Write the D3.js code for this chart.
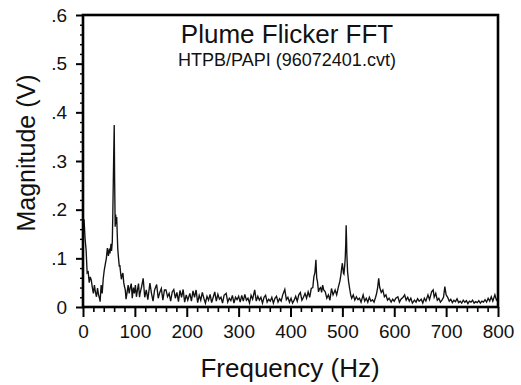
<!DOCTYPE html>
<html>
<head>
<meta charset="utf-8">
<script src="https://cdn.jsdelivr.net/npm/d3@7.8.5/dist/d3.min.js"></script>
<style>
  html, body { margin: 0; padding: 0; background: #fff; }
  svg { display: block; font-family: "Liberation Sans", Arial, sans-serif; }
</style>
</head>
<body>
<div id="chart"></div>
<script>
// Chart text
const titleText = "Plume Flicker FFT";
const subtitleText = "HTPB/PAPI (96072401.cvt)";
const xLabel = "Frequency (Hz)";
const yLabel = "Magnitude (V)";

// Tick values
const xTicks = [0, 100, 200, 300, 400, 500, 600, 700, 800];
const yTicks = [0, 0.1, 0.2, 0.3, 0.4, 0.5, 0.6];
const yTickLabels = ["0", ".1", ".2", ".3", ".4", ".5", ".6"];

// Spectrum, [frequency Hz, magnitude V]
// low band with the ~60 Hz flicker peak
const lowBand = [
    [0, 0.17], [2, 0.18], [4, 0.14], [6, 0.117], [8, 0.07], [10, 0.072], [12, 0.05],
    [14, 0.062], [16, 0.055], [18, 0.04], [20, 0.028], [22, 0.045], [24, 0.03],
    [26, 0.021], [28, 0.039], [30, 0.025], [32, 0.017], [33, 0.011], [35, 0.045],
    [37, 0.028], [39, 0.058], [41, 0.076], [43, 0.088], [45, 0.1], [47, 0.121],
    [49, 0.105], [51, 0.12], [52, 0.11], [54, 0.13], [55, 0.115], [56.5, 0.134],
    [57.5, 0.193], [59, 0.3], [60.2, 0.374], [61, 0.26], [62, 0.165], [63, 0.19],
    [64, 0.17], [65, 0.185], [66, 0.15], [67, 0.12], [68.5, 0.1], [70, 0.083],
    [71, 0.086], [72.5, 0.07], [74, 0.057], [75.5, 0.066], [77, 0.07], [78.5, 0.05],
    [80, 0.042], [81.5, 0.035], [83, 0.016], [85, 0.03], [87, 0.045], [89, 0.028],
    [91, 0.04], [93, 0.048], [95, 0.018], [97, 0.04], [99, 0.028], [101, 0.045],
    [103, 0.021], [105, 0.035], [107, 0.048], [109, 0.02]
];

// broadband noise between the peaks
const midBand = [
    [110, 0.028], [113, 0.042], [116, 0.059], [119, 0.02], [122, 0.035], [125, 0.015],
    [129, 0.049], [132, 0.028], [135, 0.012], [138, 0.035], [142, 0.046], [145, 0.018],
    [148, 0.03], [151, 0.038], [154, 0.014], [157, 0.035], [160, 0.035], [163, 0.021],
    [166, 0.028], [169, 0.012], [172, 0.031], [175, 0.036], [178, 0.018], [181, 0.03],
    [184, 0.011], [187, 0.034], [190, 0.02], [193, 0.036], [196, 0.01], [199, 0.025],
    [202, 0.014], [206, 0.028], [209, 0.012], [212, 0.033], [215, 0.02], [218, 0.035],
    [221, 0.009], [224, 0.024], [227, 0.014], [230, 0.03], [233, 0.018], [236, 0.008],
    [239, 0.022], [242, 0.014], [245, 0.026], [248, 0.009], [251, 0.02], [254, 0.031],
    [257, 0.012], [260, 0.026], [263, 0.016], [266, 0.02], [269, 0.008], [272, 0.024],
    [276, 0.028], [279, 0.01], [282, 0.018], [285, 0.013], [288, 0.024], [291, 0.008],
    [294, 0.02], [297, 0.015], [300, 0.022], [303, 0.01], [306, 0.024], [309, 0.012],
    [312, 0.026], [315, 0.014], [318, 0.018], [321, 0.008], [324, 0.024], [327, 0.016],
    [331, 0.035], [334, 0.012], [337, 0.022], [340, 0.014], [343, 0.02], [346, 0.008],
    [349, 0.02], [352, 0.024], [355, 0.01], [358, 0.016], [361, 0.012], [364, 0.02],
    [367, 0.008], [370, 0.018], [373, 0.022], [376, 0.01], [379, 0.017], [382, 0.012],
    [385, 0.025], [389, 0.036], [392, 0.015], [395, 0.02], [398, 0.01], [401, 0.018],
    [404, 0.008], [407, 0.014], [410, 0.022], [413, 0.012], [416, 0.025], [419, 0.03],
    [422, 0.014], [425, 0.02], [428, 0.028], [431, 0.018], [434, 0.031], [437, 0.02],
    [440, 0.038]
];

// peaks near 450 Hz and 507 Hz
const peakBand = [
    [443, 0.04], [445, 0.062], [447, 0.07], [449, 0.097], [450.5, 0.06], [452, 0.052],
    [454, 0.031], [456, 0.038], [458, 0.04], [460, 0.03], [462, 0.045], [464, 0.035],
    [467, 0.031], [470, 0.018], [473, 0.025], [476, 0.014], [479, 0.038], [482, 0.025],
    [484, 0.03], [486, 0.035], [489, 0.025], [492, 0.04], [495, 0.052], [497, 0.065],
    [498.5, 0.079], [500, 0.09], [502, 0.07], [503, 0.068], [504.5, 0.085], [505.5, 0.1],
    [506.5, 0.13], [507.3, 0.168], [508, 0.14], [508.6, 0.11], [510, 0.073], [512, 0.052],
    [514, 0.038], [516, 0.025], [518, 0.018], [521, 0.025], [524, 0.014], [527, 0.021],
    [530, 0.015], [533, 0.018], [536, 0.01], [540, 0.025], [543, 0.012], [546, 0.018],
    [549, 0.01], [552, 0.02], [555, 0.012], [558, 0.015], [561, 0.01], [564, 0.02],
    [566, 0.028], [568, 0.04], [570, 0.059], [572, 0.04], [575, 0.03], [578, 0.035]
];

// high band tail
const highBand = [
    [581, 0.021], [584, 0.025], [587, 0.014], [590, 0.018], [594, 0.01], [597, 0.016],
    [600, 0.012], [603, 0.018], [607, 0.021], [610, 0.01], [613, 0.016], [617, 0.02],
    [620, 0.025], [623, 0.014], [626, 0.02], [629, 0.012], [632, 0.018], [635, 0.008],
    [639, 0.014], [642, 0.01], [645, 0.017], [648, 0.012], [652, 0.016], [655, 0.008],
    [658, 0.018], [661, 0.012], [665, 0.025], [668, 0.015], [672, 0.031], [675, 0.035],
    [677, 0.02], [680, 0.028], [683, 0.014], [686, 0.018], [689, 0.01], [692, 0.014],
    [695, 0.02], [697.5, 0.042], [700, 0.025], [703, 0.02], [706, 0.012], [709, 0.016],
    [712, 0.009], [715, 0.014], [718, 0.011], [721, 0.017], [724, 0.009], [727, 0.012],
    [730, 0.008], [733, 0.014], [736, 0.01], [739, 0.013], [742, 0.007], [745, 0.012],
    [748, 0.01], [751, 0.014], [754, 0.008], [757, 0.011], [760, 0.009], [763, 0.013],
    [766, 0.008], [769, 0.012], [772, 0.01], [775, 0.015], [778, 0.01], [781, 0.018],
    [784, 0.012], [787, 0.021], [790, 0.012], [794, 0.025], [797, 0.014], [800, 0.018]
];

const width = 521;
const height = 385;
const margin = { top: 15, right: 23, bottom: 78, left: 83 };

const svg = d3.select("#chart")
    .append("svg")
    .attr("width", width)
    .attr("height", height);

const x = d3.scaleLinear()
    .domain([0, 800])
    .range([margin.left, width - margin.right]);

const y = d3.scaleLinear()
    .domain([0, 0.6])
    .range([height - margin.bottom, margin.top]);

// Minor ticks
const xMinor = d3.range(0, 801, 20).filter(v => v % 100 !== 0);
const yMinor = d3.range(0, 0.6001, 0.02).filter((v, i) => i % 5 !== 0);

// X axis: major + minor ticks, labels
svg.append("g")
    .attr("transform", "translate(0," + y(0) + ")")
    .call(d3.axisBottom(x).tickValues(xMinor).tickSize(5).tickFormat(""))
    .call(g => g.select(".domain").remove())
    .call(g => g.selectAll("line").attr("stroke-width", 1.6));

svg.append("g")
    .attr("transform", "translate(0," + y(0) + ")")
    .call(d3.axisBottom(x).tickValues(xTicks).tickSize(10).tickPadding(8).tickFormat(d3.format("d")))
    .call(g => g.select(".domain").remove())
    .call(g => g.selectAll("line").attr("stroke-width", 2))
    .call(g => g.selectAll("text").attr("font-size", "19px").attr("fill", "#111"));

// Y axis: major + minor ticks, labels
svg.append("g")
    .attr("transform", "translate(" + x(0) + ",0)")
    .call(d3.axisLeft(y).tickValues(yMinor).tickSize(3).tickFormat(""))
    .call(g => g.select(".domain").remove())
    .call(g => g.selectAll("line").attr("stroke-width", 1.4));

svg.append("g")
    .attr("transform", "translate(" + x(0) + ",0)")
    .call(d3.axisLeft(y).tickValues(yTicks).tickSize(7).tickPadding(9)
        .tickFormat((d, i) => yTickLabels[i]))
    .call(g => g.select(".domain").remove())
    .call(g => g.selectAll("line").attr("stroke-width", 2))
    .call(g => g.selectAll("text").attr("font-size", "19px").attr("fill", "#111"));

// Spectrum trace
const spectrum = lowBand.concat(midBand, peakBand, highBand);

const line = d3.line()
    .x(d => x(d[0]))
    .y(d => y(d[1]));

svg.append("path")
    .datum(spectrum)
    .attr("fill", "none")
    .attr("stroke", "#111")
    .attr("stroke-width", 1.35)
    .attr("stroke-linejoin", "miter")
    .attr("d", line);

// Frame around the plot
svg.append("rect")
    .attr("x", x(0))
    .attr("y", y(0.6))
    .attr("width", x(800) - x(0))
    .attr("height", y(0) - y(0.6))
    .attr("fill", "none")
    .attr("stroke", "#000")
    .attr("stroke-width", 2.6);

// Titles
svg.append("text")
    .attr("x", 287)
    .attr("y", 43)
    .attr("text-anchor", "middle")
    .attr("font-size", "26px")
    .attr("fill", "#111")
    .text(titleText);

svg.append("text")
    .attr("x", 287)
    .attr("y", 66)
    .attr("text-anchor", "middle")
    .attr("font-size", "18px")
    .attr("fill", "#111")
    .text(subtitleText);

// Axis labels
svg.append("text")
    .attr("x", 290)
    .attr("y", 377)
    .attr("text-anchor", "middle")
    .attr("font-size", "26px")
    .attr("fill", "#111")
    .text(xLabel);

svg.append("text")
    .attr("transform", "translate(35,153) rotate(-90)")
    .attr("text-anchor", "middle")
    .attr("font-size", "25px")
    .attr("fill", "#111")
    .text(yLabel);
</script>
</body>
</html>
